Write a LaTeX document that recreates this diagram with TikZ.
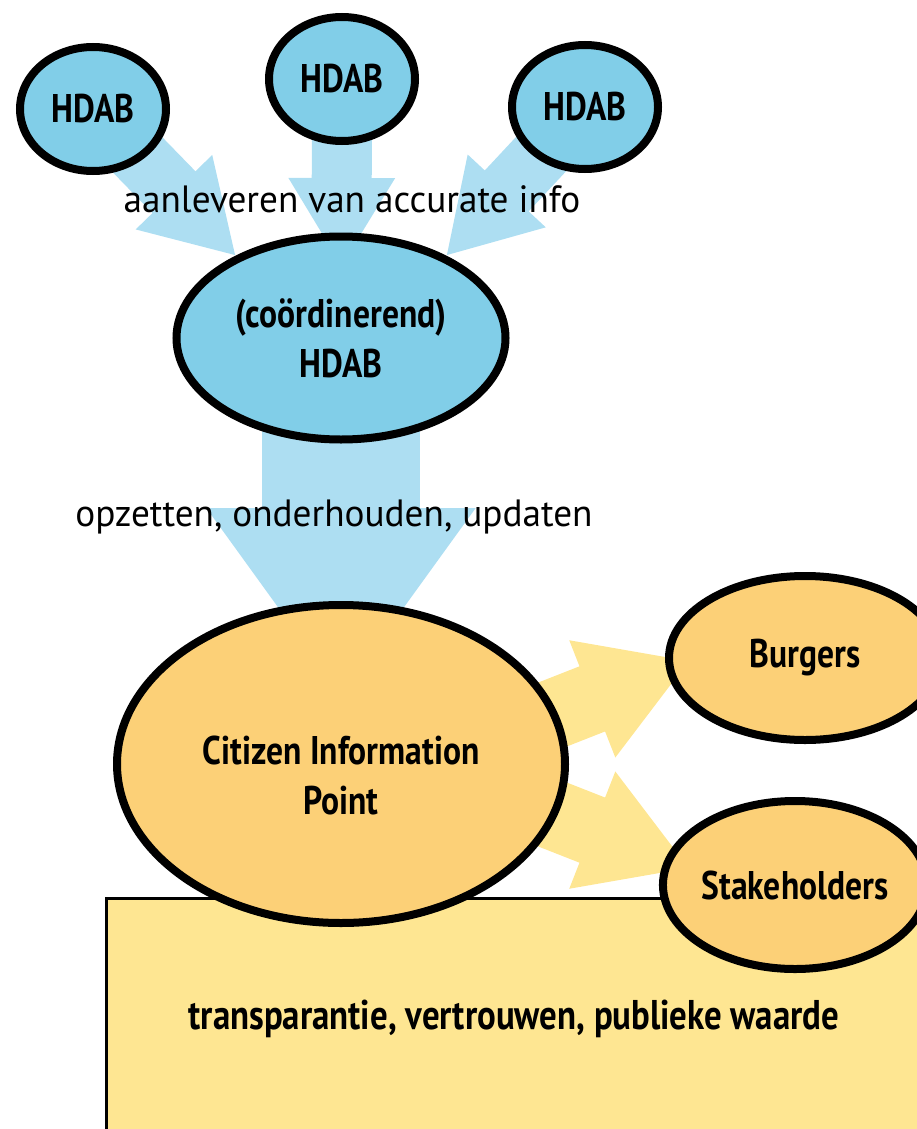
\documentclass[tikz,border=0pt]{standalone}
\usepackage{fontspec}
\setmainfont{PT Sans}
\newfontfamily\condbold{PT Sans}[FakeStretch=0.84]
\newfontfamily\labelfont{PT Sans}[FakeStretch=0.98]
\usetikzlibrary{shapes.geometric,arrows.meta,calc}

\definecolor{hdabfill}{HTML}{81CEE8}
\definecolor{flowblue}{HTML}{ADDEF2}
\definecolor{citfill}{HTML}{FCD077}
\definecolor{valuefill}{HTML}{FEE692}

\tikzset{
  boldtext/.style={inner sep=0pt, align=center,
    font=\condbold\bfseries\fontsize{40}{50}\selectfont},
  bubble/.style={ellipse, draw=black, line width=8pt, boldtext},
  hdab/.style={bubble, fill=hdabfill},
  citizen/.style={bubble, fill=citfill},
  bluearrow/.style={line width=60pt, color=flowblue,
    -{Triangle[width=100pt,length=89pt]}},
  bigarrow/.style={line width=158pt, color=flowblue,
    -{Triangle[width=256pt,length=188pt]}},
  yellowarrow/.style={line width=70pt, color=valuefill,
    -{Triangle[width=118pt,length=105pt]}},
  flowlabel/.style={inner sep=0pt, anchor=base, font=\labelfont\fontsize{38}{46}\selectfont},
}

\begin{document}
\begin{tikzpicture}[x=1pt,y=-1pt]
\useasboundingbox (0,0) rectangle (916,1129);

% value box at the bottom
\draw[line width=3pt, fill=valuefill] (106.5,898.5) rectangle (935,1140);

% node positions
\coordinate (p1) at (93,109);
\coordinate (p2) at (342,79);
\coordinate (p3) at (585,107);
\coordinate (pc) at (341,338);
\coordinate (pcip) at (341,764);

% arrow end points
\coordinate (t1) at (236,256);
\coordinate (t2) at (341.5,267);
\coordinate (t3) at (446,256);
\coordinate (tc) at (341,696);
\coordinate (sb) at (480,743);
\coordinate (tb) at (690,660.5);
\coordinate (ss) at (480,786);
\coordinate (ts) at (690,868.5);

% flows
\draw[bluearrow] (p1) -- (t1);
\draw[bluearrow] (p2) -- (t2);
\draw[bluearrow] (p3) -- (t3);
\draw[bigarrow] (pc) -- (tc);
\draw[yellowarrow] (sb) -- (tb);
\draw[yellowarrow] (ss) -- (ts);

% bubbles
\node[hdab, minimum width=146pt, minimum height=124pt] (h1) at (p1) {HDAB};
\node[hdab, minimum width=146pt, minimum height=124pt] (h2) at (p2) {HDAB};
\node[hdab, minimum width=146pt, minimum height=124pt] (h3) at (p3) {HDAB};
\node[hdab, minimum width=329pt, minimum height=203pt] (hc) at (pc) {(coördinerend)\\HDAB};
\node[citizen, minimum width=448pt, minimum height=318pt] (cip) at (pcip) {};
\node[boldtext] (ciptext) at ($(cip.center)+(0,11)$) {Citizen Information\\Point};
\node[citizen, minimum width=272pt, minimum height=164pt] (burg) at (805,658) {Burgers};
\node[citizen, minimum width=252pt, minimum height=168pt] (stake) at (795,885) {Stakeholders};

% labels
\node[flowlabel] (l1) at (352,212) {aanleveren van accurate info};
\node[flowlabel] (l2) at (334,526) {opzetten, onderhouden, updaten};
\node[inner sep=0pt, font=\condbold\bfseries\fontsize{41.5}{48}\selectfont] (val) at (514,1019)
  {transparantie, vertrouwen, publieke waarde};
\end{tikzpicture}
\end{document}
